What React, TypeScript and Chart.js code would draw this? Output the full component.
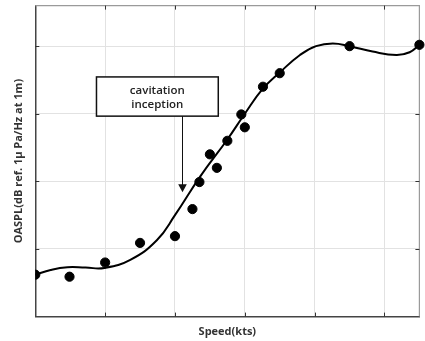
import { useEffect, useRef } from 'react';
import { Chart, registerables } from 'chart.js';

Chart.register(...registerables);

// Measured speed / OASPL samples (axis units, unlabeled)
const speeds = [0, 0.49, 1.0, 1.5, 2.0, 2.25, 2.35, 2.5, 2.6, 2.75, 2.95, 3.0, 3.26, 3.5, 4.5, 5.5];
const levels = [0.62, 0.59, 0.8, 1.09, 1.19, 1.59, 1.99, 2.4, 2.2, 2.6, 2.99, 2.8, 3.4, 3.6, 4.0, 4.02];

// Fitted trend curve samples
const fitSpeeds = [0, 0.22, 0.46, 0.72, 0.99, 1.36, 1.74, 2.0, 2.36, 2.75, 3.0, 3.25, 3.5, 3.79, 4.02, 4.26, 4.5, 4.83, 5.17, 5.36, 5.5];
const fitLevels = [0.62, 0.69, 0.73, 0.725, 0.72, 0.84, 1.13, 1.5, 2.07, 2.62, 3.0, 3.36, 3.61, 3.87, 4.0, 4.04, 4.0, 3.92, 3.87, 3.91, 4.02];

// Axis extents
const speedMax = 5.5;
const levelMax = 4.6;

// Callout text and the point it marks
const calloutLines = ['cavitation', 'inception'];
const calloutBox = { left: 0.876, right: 2.62, top: 3.545, bottom: 2.965 };
const inceptionSpeed = 2.1;
const inceptionLevel = 1.84;

const FONT = '"Open Sans", "Noto Sans", sans-serif';

const overlay = {
  id: 'overlay',
  beforeDatasetsDraw(chart: any) {
    const { ctx, chartArea: a, scales } = chart;
    const x = scales.x;
    const y = scales.y;
    ctx.save();
    // top and right frame
    ctx.strokeStyle = '#9a9a9a';
    ctx.lineWidth = 1.2;
    ctx.beginPath();
    ctx.moveTo(a.left, a.top);
    ctx.lineTo(a.right, a.top);
    ctx.lineTo(a.right, a.bottom);
    ctx.stroke();
    // inward tick marks
    ctx.strokeStyle = '#333';
    ctx.lineWidth = 1;
    const len = 4;
    x.ticks.forEach((t: any) => {
      if (t.value <= 0 || t.value >= speedMax) return;
      const px = Math.round(x.getPixelForValue(t.value)) + 0.5;
      ctx.beginPath();
      ctx.moveTo(px, a.top);
      ctx.lineTo(px, a.top + len);
      ctx.moveTo(px, a.bottom);
      ctx.lineTo(px, a.bottom - len);
      ctx.stroke();
    });
    y.ticks.forEach((t: any) => {
      if (t.value <= 0 || t.value >= levelMax) return;
      const py = Math.round(y.getPixelForValue(t.value)) + 0.5;
      ctx.beginPath();
      ctx.moveTo(a.left, py);
      ctx.lineTo(a.left + len, py);
      ctx.moveTo(a.right, py);
      ctx.lineTo(a.right - len, py);
      ctx.stroke();
    });
    ctx.restore();
  },
  afterDatasetsDraw(chart: any) {
    const { ctx, scales } = chart;
    const x = scales.x;
    const y = scales.y;
    const bl = x.getPixelForValue(calloutBox.left);
    const br = x.getPixelForValue(calloutBox.right);
    const bt = y.getPixelForValue(calloutBox.top);
    const bb = y.getPixelForValue(calloutBox.bottom);
    const ax = Math.round(x.getPixelForValue(inceptionSpeed)) + 0.5;
    const ay = y.getPixelForValue(inceptionLevel);
    ctx.save();
    ctx.fillStyle = '#fff';
    ctx.fillRect(bl, bt, br - bl, bb - bt);
    ctx.strokeStyle = '#111';
    ctx.lineWidth = 1.5;
    ctx.strokeRect(bl, bt, br - bl, bb - bt);
    ctx.fillStyle = '#222';
    ctx.font = `600 11.5px ${FONT}`;
    ctx.textAlign = 'center';
    ctx.textBaseline = 'middle';
    const cx = (bl + br) / 2;
    const cy = (bt + bb) / 2 + 1;
    calloutLines.forEach((line, i) => {
      ctx.fillText(line, cx, cy + (i - (calloutLines.length - 1) / 2) * 13.6);
    });
    // arrow
    ctx.strokeStyle = '#111';
    ctx.lineWidth = 1;
    ctx.beginPath();
    ctx.moveTo(ax, bb);
    ctx.lineTo(ax, ay - 7);
    ctx.stroke();
    ctx.fillStyle = '#111';
    ctx.beginPath();
    ctx.moveTo(ax - 4.3, ay - 8);
    ctx.lineTo(ax + 4.3, ay - 8);
    ctx.lineTo(ax, ay);
    ctx.closePath();
    ctx.fill();
    ctx.restore();
  },
};

export default function App() {
  const ref = useRef<HTMLCanvasElement>(null);

  useEffect(() => {
    if (!ref.current) return;
    const chart = new Chart(ref.current, {
      type: 'scatter',
      data: {
        datasets: [
          {
            label: 'measured',
            data: speeds.map((s, i) => ({ x: s, y: levels[i] })),
            backgroundColor: '#000',
            borderColor: '#000',
            pointRadius: 4.6,
            pointHoverRadius: 4.6,
            showLine: false,
            order: 0,
            clip: { left: 0, top: false, right: false, bottom: false } as any,
          },
          {
            label: 'fit',
            data: fitSpeeds.map((s, i) => ({ x: s, y: fitLevels[i] })),
            borderColor: '#000',
            borderWidth: 2,
            pointRadius: 0,
            showLine: true,
            tension: 0.45,
            order: 1,
          },
        ],
      },
      options: {
        animation: false,
        responsive: false,
        events: [],
        layout: { padding: { left: 0, right: 5.3, top: 5.3, bottom: 0 } },
        plugins: { legend: { display: false }, tooltip: { enabled: false } },
        scales: {
          x: {
            type: 'linear',
            min: 0,
            max: speedMax,
            ticks: { display: false, stepSize: 1 },
            grid: { color: '#e2e2e2', lineWidth: 1, drawTicks: false },
            border: { color: '#444', width: 1.5 },
            title: {
              display: true,
              text: 'Speed(kts)',
              color: '#333',
              font: { family: FONT, size: 11, weight: 'bold' },
              padding: { top: 9, bottom: 2.2 },
            },
          },
          y: {
            type: 'linear',
            min: 0,
            max: levelMax,
            ticks: { display: false, stepSize: 1 },
            grid: { color: '#e2e2e2', lineWidth: 1, drawTicks: false },
            border: { color: '#444', width: 1.5 },
            title: {
              display: true,
              text: 'OASPL(dB ref. 1μ Pa/Hz at 1m)',
              color: '#333',
              font: { family: FONT, size: 11, weight: 'bold' },
              padding: { top: 12.7, bottom: 9.4 },
            },
          },
        },
      },
      plugins: [overlay],
    });
    return () => chart.destroy();
  }, []);

  return (
    <div style={{ position: 'fixed', left: 0, top: 0, width: 425, height: 341, background: '#fff' }}>
      <canvas ref={ref} width={425} height={341} />
    </div>
  );
}
